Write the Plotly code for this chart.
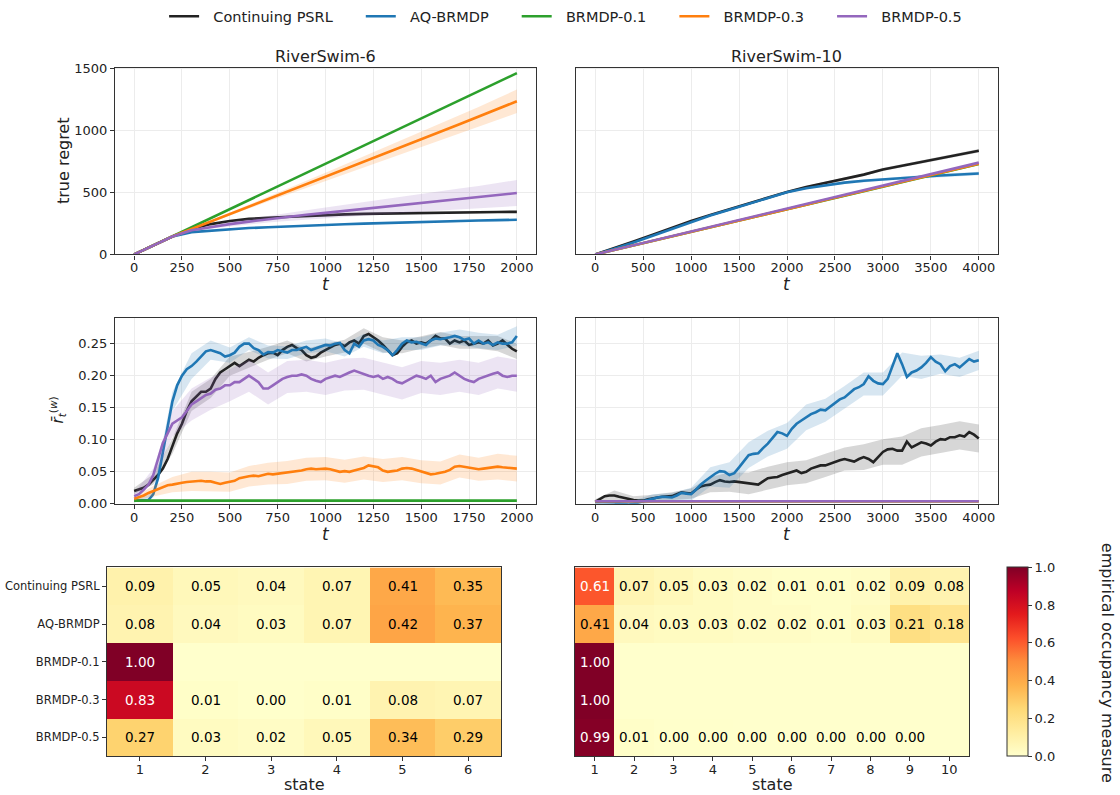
import plotly.graph_objects as go

# ---------------- data ----------------
series_names = ["Continuing PSRL", "AQ-BRMDP", "BRMDP-0.1", "BRMDP-0.3", "BRMDP-0.5"]
series_colors = ["#222222", "#1f77b4", "#2ca02c", "#ff7f0e", "#9467bd"]

# true regret, RiverSwim-6 (t = 0..2000 step 100)
t_reg6 = list(range(0, 2001, 100))
reg6_psrl = [0, 72, 145, 205, 245, 270, 287, 297, 305, 312, 318, 324, 328, 331, 334, 337, 339, 341, 342, 343, 344]
reg6_aq = [0, 72, 145, 180, 192, 205, 213, 220, 227, 233, 238, 244, 249, 254, 258, 262, 266, 270, 274, 277, 280]
reg6_b01 = [0, 73, 147, 220, 293, 366, 440, 513, 586, 659, 733, 806, 879, 952, 1026, 1099, 1172, 1245, 1319, 1392, 1465]
reg6_b03 = [0, 72, 145, 205, 265, 326, 386, 447, 507, 568, 628, 689, 749, 810, 870, 931, 991, 1052, 1113, 1175, 1238]
reg6_b05 = [0, 72, 145, 195, 222, 245, 265, 285, 303, 320, 336, 352, 368, 384, 400, 416, 432, 448, 464, 480, 496]
reg6_hw_psrl = [0, 1, 2, 3, 4, 5, 5, 6, 6, 6, 7, 7, 7, 7, 8, 8, 8, 8, 8, 8, 8]
reg6_hw_aq = [0, 1, 2, 3, 3, 4, 4, 4, 5, 5, 5, 5, 5, 6, 6, 6, 6, 6, 6, 6, 6]
reg6_hw_b01 = [0, 1, 1, 1, 2, 2, 2, 2, 2, 3, 3, 3, 3, 3, 3, 4, 4, 4, 4, 4, 4]
reg6_hw_b03 = [0, 2, 4, 6, 9, 12, 15, 19, 23, 27, 32, 37, 42, 47, 53, 59, 65, 72, 79, 87, 95]
reg6_hw_b05 = [0, 2, 4, 8, 13, 18, 23, 28, 33, 38, 43, 48, 54, 60, 66, 72, 78, 84, 90, 97, 105]

# true regret, RiverSwim-10 (t = 0..4000 step 200)
t_reg10 = list(range(0, 4001, 200))
reg10_psrl = [0, 50, 105, 160, 215, 270, 318, 365, 410, 455, 505, 545, 578, 610, 645, 686, 718, 748, 778, 808, 838]
reg10_aq = [0, 45, 97, 152, 208, 265, 315, 362, 408, 455, 502, 535, 560, 580, 595, 607, 618, 628, 638, 646, 654]
reg10_b01 = [0, 36, 73, 109, 146, 182, 219, 255, 292, 328, 365, 401, 438, 474, 511, 547, 584, 620, 657, 693, 730]
reg10_b03 = [0, 36, 73, 110, 146, 183, 219, 256, 292, 329, 366, 402, 439, 475, 512, 549, 585, 622, 658, 695, 732]
reg10_b05 = [0, 37, 74, 111, 148, 186, 223, 260, 297, 334, 371, 408, 445, 482, 519, 556, 594, 631, 668, 705, 742]
reg10_hw_psrl = [0, 2, 3, 4, 5, 6, 6, 7, 7, 8, 8, 9, 9, 10, 11, 12, 12, 13, 14, 14, 15]
reg10_hw_aq = [0, 2, 3, 4, 5, 6, 6, 7, 7, 8, 8, 9, 10, 11, 11, 12, 13, 13, 14, 14, 15]
reg10_hw_b01 = [0] * 21
reg10_hw_b03 = [0, 1, 1, 1, 1, 1, 1, 2, 2, 2, 2, 2, 2, 2, 2, 3, 3, 3, 3, 3, 3]
reg10_hw_b05 = [0, 1, 1, 1, 1, 1, 1, 2, 2, 2, 2, 2, 2, 2, 2, 3, 3, 3, 3, 3, 3]

# windowed reward, RiverSwim-6 (t = 0..2000 step 25)
t_rw6 = list(range(0, 2001, 25))
rw6_psrl = [0.020, 0.022, 0.025, 0.030, 0.038, 0.045, 0.055, 0.070, 0.090, 0.110, 0.125, 0.145, 0.160, 0.168, 0.175, 0.175,
            0.180, 0.195, 0.205, 0.210, 0.215, 0.220, 0.215, 0.220, 0.225, 0.222, 0.228, 0.232, 0.235, 0.236, 0.232, 0.240,
            0.245, 0.248, 0.243, 0.240, 0.232, 0.228, 0.230, 0.236, 0.240, 0.245, 0.248, 0.250, 0.246, 0.252, 0.255, 0.250,
            0.262, 0.265, 0.260, 0.255, 0.248, 0.240, 0.232, 0.235, 0.245, 0.252, 0.255, 0.250, 0.252, 0.250, 0.255, 0.262,
            0.258, 0.258, 0.250, 0.255, 0.252, 0.255, 0.248, 0.250, 0.252, 0.250, 0.255, 0.247, 0.250, 0.255, 0.248, 0.242,
            0.238]
rw6_aq = [0.005, 0.005, 0.005, 0.006, 0.015, 0.040, 0.080, 0.120, 0.160, 0.185, 0.200, 0.210, 0.215, 0.222, 0.230, 0.238,
          0.240, 0.238, 0.235, 0.230, 0.232, 0.236, 0.245, 0.250, 0.250, 0.243, 0.240, 0.233, 0.237, 0.236, 0.240, 0.238,
          0.236, 0.240, 0.240, 0.243, 0.245, 0.240, 0.243, 0.245, 0.248, 0.247, 0.250, 0.251, 0.240, 0.235, 0.250, 0.245,
          0.255, 0.257, 0.255, 0.248, 0.245, 0.240, 0.232, 0.240, 0.250, 0.255, 0.252, 0.253, 0.250, 0.248, 0.255, 0.258,
          0.257, 0.258, 0.260, 0.262, 0.260, 0.256, 0.258, 0.250, 0.255, 0.250, 0.252, 0.248, 0.252, 0.250, 0.250, 0.252,
          0.262]
rw6_b05 = [0.012, 0.015, 0.022, 0.030, 0.045, 0.070, 0.095, 0.110, 0.125, 0.130, 0.135, 0.145, 0.155, 0.160, 0.165, 0.170,
           0.172, 0.178, 0.180, 0.185, 0.185, 0.190, 0.190, 0.195, 0.200, 0.195, 0.190, 0.180, 0.180, 0.185, 0.190, 0.195,
           0.198, 0.200, 0.200, 0.202, 0.200, 0.195, 0.192, 0.190, 0.195, 0.198, 0.200, 0.198, 0.202, 0.205, 0.208, 0.205,
           0.203, 0.200, 0.198, 0.200, 0.195, 0.198, 0.195, 0.190, 0.188, 0.192, 0.195, 0.200, 0.198, 0.195, 0.200, 0.190,
           0.195, 0.198, 0.200, 0.205, 0.200, 0.195, 0.192, 0.190, 0.195, 0.198, 0.200, 0.203, 0.205, 0.200, 0.198, 0.200,
           0.200]
rw6_b03 = [0.008, 0.010, 0.013, 0.017, 0.020, 0.024, 0.027, 0.029, 0.030, 0.032, 0.033, 0.034, 0.035, 0.036, 0.036, 0.035,
           0.035, 0.033, 0.031, 0.033, 0.034, 0.036, 0.040, 0.042, 0.043, 0.044, 0.043, 0.045, 0.047, 0.046, 0.047, 0.048,
           0.049, 0.050, 0.050, 0.052, 0.054, 0.055, 0.054, 0.055, 0.055, 0.054, 0.052, 0.050, 0.051, 0.050, 0.052, 0.054,
           0.056, 0.060, 0.059, 0.057, 0.052, 0.050, 0.051, 0.052, 0.055, 0.056, 0.055, 0.053, 0.050, 0.048, 0.046, 0.047,
           0.048, 0.050, 0.053, 0.058, 0.059, 0.058, 0.057, 0.055, 0.054, 0.055, 0.056, 0.057, 0.058, 0.057, 0.056, 0.056,
           0.055]
t_rw6_flat = [0, 250, 500, 750, 1000, 1250, 1500, 1750, 2000]
rw6_b01 = [0.005, 0.005, 0.005, 0.005, 0.005, 0.005, 0.005, 0.005, 0.005]
# band half-widths on every 4th point (step 100)
rw6_hw_psrl = [0.005, 0.008, 0.012, 0.015, 0.015, 0.015, 0.012, 0.010, 0.010, 0.010, 0.010, 0.010, 0.012, 0.012, 0.010,
               0.010, 0.010, 0.010, 0.010, 0.012, 0.012]
rw6_hw_aq = [0.003, 0.005, 0.015, 0.020, 0.015, 0.012, 0.010, 0.010, 0.010, 0.010, 0.010, 0.010, 0.010, 0.010, 0.010,
             0.010, 0.010, 0.012, 0.012, 0.012, 0.015]
rw6_hw_b05 = [0.005, 0.010, 0.020, 0.025, 0.025, 0.025, 0.025, 0.025, 0.025, 0.025, 0.025, 0.025, 0.025, 0.025, 0.025,
              0.025, 0.025, 0.025, 0.025, 0.025, 0.025]
rw6_hw_b03 = [0.003, 0.008, 0.012, 0.015, 0.015, 0.015, 0.016, 0.017, 0.018, 0.018, 0.018, 0.018, 0.018, 0.018, 0.018,
              0.018, 0.018, 0.018, 0.018, 0.020, 0.020]

# windowed reward, RiverSwim-10 (t = 0..4000 step 50)
t_rw10 = list(range(0, 4001, 50))
rw10_psrl = [0.003, 0.008, 0.012, 0.013, 0.013, 0.011, 0.009, 0.008, 0.006, 0.005, 0.005, 0.007, 0.009, 0.010, 0.011, 0.011,
             0.012, 0.015, 0.018, 0.017, 0.016, 0.022, 0.027, 0.029, 0.030, 0.034, 0.037, 0.035, 0.034, 0.035, 0.034, 0.034,
             0.032, 0.031, 0.030, 0.035, 0.040, 0.041, 0.042, 0.045, 0.047, 0.050, 0.052, 0.048, 0.050, 0.055, 0.058, 0.060,
             0.060, 0.063, 0.066, 0.068, 0.070, 0.068, 0.066, 0.070, 0.073, 0.070, 0.065, 0.073, 0.081, 0.085, 0.086, 0.083,
             0.083, 0.097, 0.088, 0.092, 0.096, 0.094, 0.091, 0.097, 0.101, 0.100, 0.104, 0.104, 0.107, 0.105, 0.112, 0.108,
             0.102]
rw10_aq = [0.003, 0.003, 0.003, 0.002, 0.002, 0.001, 0.000, -0.001, 0.000, 0.002, 0.004, 0.007, 0.009, 0.010, 0.011, 0.011,
           0.010, 0.013, 0.017, 0.016, 0.015, 0.022, 0.030, 0.036, 0.042, 0.047, 0.051, 0.050, 0.045, 0.048, 0.057, 0.066,
           0.076, 0.078, 0.079, 0.087, 0.094, 0.103, 0.112, 0.110, 0.106, 0.117, 0.125, 0.130, 0.135, 0.140, 0.143, 0.147,
           0.146, 0.152, 0.158, 0.163, 0.166, 0.172, 0.179, 0.182, 0.187, 0.199, 0.192, 0.188, 0.187, 0.195, 0.215, 0.235,
           0.218, 0.198, 0.205, 0.208, 0.213, 0.220, 0.229, 0.222, 0.218, 0.207, 0.215, 0.218, 0.213, 0.220, 0.226, 0.222,
           0.224]
t_rw10_flat = [0, 500, 1000, 1500, 2000, 2500, 3000, 3500, 4000]
rw10_b01 = [0.004, 0.004, 0.004, 0.004, 0.004, 0.004, 0.004, 0.004, 0.004]
rw10_b03 = [0.004, 0.004, 0.004, 0.004, 0.004, 0.004, 0.004, 0.004, 0.004]
rw10_b05 = [0.004, 0.004, 0.004, 0.004, 0.004, 0.004, 0.004, 0.004, 0.004]
# band half-widths on every 4th point (step 200)
rw10_hw_psrl = [0.004, 0.008, 0.006, 0.005, 0.006, 0.008, 0.012, 0.015, 0.017, 0.018, 0.018, 0.018, 0.018, 0.018, 0.020,
                0.020, 0.022, 0.022, 0.022, 0.022, 0.022]
rw10_hw_aq = [0.003, 0.004, 0.005, 0.006, 0.007, 0.010, 0.015, 0.020, 0.020, 0.020, 0.020, 0.020, 0.018, 0.018, 0.018,
              0.018, 0.018, 0.018, 0.015, 0.015, 0.015]

# occupancy heatmaps
states6 = [1, 2, 3, 4, 5, 6]
occ6 = [
    [0.09, 0.05, 0.04, 0.07, 0.41, 0.35],
    [0.08, 0.04, 0.03, 0.07, 0.42, 0.37],
    [1.00, 0.0, 0.0, 0.0, 0.0, 0.0],
    [0.83, 0.01, 0.003, 0.01, 0.08, 0.07],
    [0.27, 0.03, 0.02, 0.05, 0.34, 0.29],
]
states10 = [1, 2, 3, 4, 5, 6, 7, 8, 9, 10]
occ10 = [
    [0.61, 0.07, 0.05, 0.03, 0.02, 0.01, 0.01, 0.02, 0.09, 0.08],
    [0.41, 0.04, 0.03, 0.03, 0.02, 0.02, 0.01, 0.03, 0.21, 0.18],
    [1.00, 0.0, 0.0, 0.0, 0.0, 0.0, 0.0, 0.0, 0.0, 0.0],
    [1.00, 0.0, 0.0, 0.0, 0.0, 0.0, 0.0, 0.0, 0.0, 0.0],
    [0.99, 0.01, 0.002, 0.002, 0.001, 0.001, 0.001, 0.001, 0.001, 0.0],
]
cbar_ticks = [0.0, 0.2, 0.4, 0.6, 0.8, 1.0]

ylorrd = ["#ffffcc", "#ffeda0", "#fed976", "#feb24c", "#fd8d3c", "#fc4e2a", "#e31a1c", "#bd0026", "#800026"]

FONT = "DejaVu Sans"
W, H = 1120, 795
NBSP = "\u00a0"


def rgba(hexc, a):
    h = hexc.lstrip("#")
    if len(h) == 3:
        h = "".join(c * 2 for c in h)
    r, g, b = int(h[0:2], 16), int(h[2:4], 16), int(h[4:6], 16)
    return f"rgba({r},{g},{b},{a})"


fig = go.Figure()


def legend_label(i):
    return NBSP * 2 + series_names[i] + (NBSP * 5 if i < len(series_names) - 1 else "")


def add_series(xs, ys, bx, hw, i, xa, ya, showlegend, step=1, alpha=0.18):
    color = series_colors[i]
    if hw is not None:
        mid = ys[::step]
        hi = [m + h for m, h in zip(mid, hw)]
        lo = [m - h for m, h in zip(mid, hw)]
        fig.add_trace(go.Scatter(x=list(bx) + list(bx)[::-1], y=hi + lo[::-1], fill="toself",
                                 fillcolor=rgba(color, alpha), line=dict(width=0), mode="lines",
                                 hoverinfo="skip", showlegend=False, xaxis=xa, yaxis=ya))
    fig.add_trace(go.Scatter(x=xs, y=ys, mode="lines", line=dict(color=color, width=2.6),
                             name=legend_label(i), legendgroup=series_names[i], showlegend=showlegend,
                             xaxis=xa, yaxis=ya))


# top-left
reg6 = [reg6_psrl, reg6_aq, reg6_b01, reg6_b03, reg6_b05]
reg6_hw = [reg6_hw_psrl, reg6_hw_aq, reg6_hw_b01, reg6_hw_b03, reg6_hw_b05]
for i in range(5):
    add_series(t_reg6, reg6[i], t_reg6, reg6_hw[i], i, "x", "y", True)

# top-right
reg10 = [reg10_psrl, reg10_aq, reg10_b01, reg10_b03, reg10_b05]
reg10_hw = [reg10_hw_psrl, reg10_hw_aq, reg10_hw_b01, reg10_hw_b03, reg10_hw_b05]
for i in range(5):
    add_series(t_reg10, reg10[i], t_reg10, reg10_hw[i], i, "x2", "y2", False)

# middle-left
t6_band = t_rw6[::4]
add_series(t_rw6, rw6_psrl, t6_band, rw6_hw_psrl, 0, "x3", "y3", False, step=4)
add_series(t_rw6, rw6_aq, t6_band, rw6_hw_aq, 1, "x3", "y3", False, step=4)
add_series(t_rw6_flat, rw6_b01, None, None, 2, "x3", "y3", False)
add_series(t_rw6, rw6_b03, t6_band, rw6_hw_b03, 3, "x3", "y3", False, step=4)
add_series(t_rw6, rw6_b05, t6_band, rw6_hw_b05, 4, "x3", "y3", False, step=4)

# middle-right
t10_band = t_rw10[::4]
add_series(t_rw10, rw10_psrl, t10_band, rw10_hw_psrl, 0, "x4", "y4", False, step=4)
add_series(t_rw10, rw10_aq, t10_band, rw10_hw_aq, 1, "x4", "y4", False, step=4)
add_series(t_rw10_flat, rw10_b01, None, None, 2, "x4", "y4", False)
add_series(t_rw10_flat, rw10_b03, None, None, 3, "x4", "y4", False)
add_series(t_rw10_flat, rw10_b05, None, None, 4, "x4", "y4", False)

# heatmaps
cscale = [[i / (len(ylorrd) - 1), c] for i, c in enumerate(ylorrd)]
fig.add_trace(go.Heatmap(z=occ6, x=states6, y=series_names, coloraxis="coloraxis", xaxis="x5", yaxis="y5",
                         hoverinfo="skip"))
fig.add_trace(go.Heatmap(z=occ10, x=states10, y=series_names, coloraxis="coloraxis", xaxis="x6", yaxis="y6",
                         hoverinfo="skip"))

annotations = []
for (zz, xs, xa, ya) in [(occ6, states6, "x5", "y5"), (occ10, states10, "x6", "y6")]:
    for i, row in enumerate(zz):
        for j, v in enumerate(row):
            if v == 0:
                continue
            annotations.append(dict(x=xs[j], y=series_names[i], xref=xa, yref=ya, text=f"{v:.2f}",
                                    showarrow=False, font=dict(family=FONT, size=13.5,
                                                               color="white" if v > 0.5 else "black")))


def px_x(a, b):
    return [a / W, b / W]


def px_y(top, bottom):
    return [1 - bottom / H, 1 - top / H]


axis_common = dict(showline=True, linecolor="#333333", linewidth=1.2, mirror=True, ticks="outside", ticklen=4,
                   tickwidth=1, tickcolor="#333333", zeroline=False, tickfont=dict(family=FONT, size=13, color="#222"),
                   automargin=False)
line_axis = dict(axis_common, showgrid=True, gridcolor="#ececec", gridwidth=1)
heat_axis = dict(axis_common, showgrid=False)
xstand = -3

fig.update_layout(
    width=W, height=H, template="none", paper_bgcolor="white", plot_bgcolor="white",
    margin=dict(l=0, r=0, t=0, b=0),
    font=dict(family=FONT, size=13, color="#222"),
    showlegend=True,
    legend=dict(orientation="h", x=0.505, xanchor="center", y=1.006, yanchor="top",
                font=dict(family=FONT, size=14.5, color="#222"), itemwidth=30, tracegroupgap=0,
                bgcolor="rgba(0,0,0,0)"),
    xaxis=dict(line_axis, domain=px_x(115, 536), anchor="y", range=[-100, 2100],
               tickvals=list(range(0, 2001, 250)), ticklabelstandoff=xstand),
    yaxis=dict(line_axis, domain=px_y(63, 251), anchor="x", range=[0, 1510], tickvals=[0, 500, 1000, 1500]),
    xaxis2=dict(line_axis, domain=px_x(576, 998), anchor="y2", range=[-200, 4200],
                tickvals=list(range(0, 4001, 500)), ticklabelstandoff=xstand),
    yaxis2=dict(line_axis, domain=px_y(63, 251), anchor="x2", range=[0, 1510], tickvals=[0, 500, 1000, 1500],
                showticklabels=False, ticks=""),
    xaxis3=dict(line_axis, domain=px_x(115, 536), anchor="y3", range=[-100, 2100],
                tickvals=list(range(0, 2001, 250)), ticklabelstandoff=xstand),
    yaxis3=dict(line_axis, domain=px_y(315, 502), anchor="x3", range=[0, 0.29],
                tickvals=[0, 0.05, 0.10, 0.15, 0.20, 0.25], tickformat=".2f"),
    xaxis4=dict(line_axis, domain=px_x(576, 998), anchor="y4", range=[-200, 4200],
                tickvals=list(range(0, 4001, 500)), ticklabelstandoff=xstand),
    yaxis4=dict(line_axis, domain=px_y(315, 502), anchor="x4", range=[0, 0.29],
                tickvals=[0, 0.05, 0.10, 0.15, 0.20, 0.25], showticklabels=False, ticks=""),
    xaxis5=dict(heat_axis, domain=px_x(107, 501), anchor="y5", range=[0.5, 6.5], tickvals=states6,
                ticklabelstandoff=xstand),
    yaxis5=dict(heat_axis, domain=px_y(566, 756), anchor="x5", autorange="reversed", type="category",
                tickfont=dict(family=FONT, size=11.5, color="#222")),
    xaxis6=dict(heat_axis, domain=px_x(575, 969), anchor="y6", range=[0.5, 10.5], tickvals=states10,
                ticklabelstandoff=xstand),
    yaxis6=dict(heat_axis, domain=px_y(566, 756), anchor="x6", autorange="reversed", type="category",
                showticklabels=False, ticks=""),
    coloraxis=dict(colorscale=cscale, cmin=0, cmax=1,
                   colorbar=dict(x=1007 / W, xanchor="left", y=1 - 756 / H, yanchor="bottom",
                                 len=190 / H, lenmode="fraction", thickness=21, thicknessmode="pixels",
                                 outlinecolor="#333333", outlinewidth=1, ticks="outside", ticklen=4,
                                 tickcolor="#333333", tickvals=cbar_ticks, tickformat=".1f",
                                 tickfont=dict(family=FONT, size=13, color="#222"), xpad=0, ypad=0)),
)


def paper_text(xp, yp, text, size=16, angle=0):
    return dict(x=xp / W, y=1 - yp / H, xref="paper", yref="paper", text=text, showarrow=False,
                textangle=angle, font=dict(family=FONT, size=size, color="#222"),
                xanchor="center", yanchor="middle")


annotations += [
    paper_text((115 + 536) / 2, 52, "RiverSwim-6"),
    paper_text((576 + 998) / 2, 52, "RiverSwim-10"),
    paper_text((115 + 536) / 2, 281, "<i>t</i>", 17),
    paper_text((576 + 998) / 2, 281, "<i>t</i>", 17),
    paper_text((115 + 536) / 2, 532, "<i>t</i>", 17),
    paper_text((576 + 998) / 2, 532, "<i>t</i>", 17),
    paper_text((107 + 501) / 2, 784, "state", 16),
    paper_text((575 + 969) / 2, 784, "state", 16),
    paper_text(63, 157, "true regret", 16, -90),
    paper_text(57, 408, "<i>r̄</i><sub><i>t</i></sub><sup>(<i>w</i>)</sup>", 15, -90),
    paper_text(1107, 662, "empirical occupancy measure", 16, 90),
]
fig.update_layout(annotations=annotations)

fig.write_html("out.html", config={"displayModeBar": False},
               post_script="document.body.style.margin='0';document.body.style.padding='0';")
